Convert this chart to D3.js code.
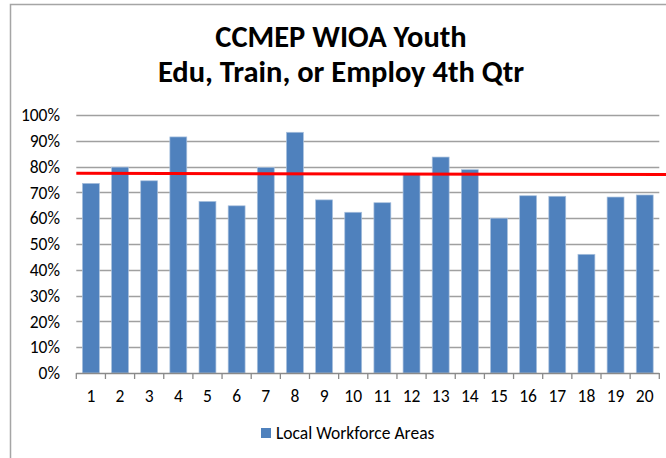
<!DOCTYPE html>
<html><head><meta charset="utf-8">
<script src="https://cdn.jsdelivr.net/npm/d3@7"></script>
<style>body{margin:0;background:#fff}svg{display:block}</style>
</head><body>
<script>
const categories = ["1","2","3","4","5","6","7","8","9","10","11","12","13","14","15","16","17","18","19","20"];
const values = [0.735,0.798,0.745,0.915,0.665,0.648,0.797,0.933,0.671,0.623,0.660,0.771,0.837,0.788,0.600,0.687,0.685,0.460,0.682,0.690];
const yTicks = [0,0.1,0.2,0.3,0.4,0.5,0.6,0.7,0.8,0.9,1.0];
const targetLine = [0.774, 0.769];
const titleLines = ["CCMEP WIOA Youth", "Edu, Train, or Employ 4th Qtr"];
const seriesName = "Local Workforce Areas";

const W = 666, H = 458;
const svg = d3.select("body").append("svg").attr("width", W).attr("height", H);
const font = "Calibri, Carlito, Lato, sans-serif";

// chart frame
svg.append("path").attr("d", `M10.5,${H} V4.5 H${W}`).attr("fill","none").attr("stroke","#a5a5a5").attr("stroke-width",1.5);

const x = d3.scaleBand().domain(categories).range([76.3, 659.3]).paddingInner(0.42).paddingOuter(0.21);
const y = d3.scaleLinear().domain([0,1]).range([373, 115]);

// gridlines
svg.append("g").selectAll("line").data(yTicks.filter(d=>d>0)).join("line")
  .attr("x1", 76.3).attr("x2", 659.3)
  .attr("y1", d=>Math.round(y(d))+0.5).attr("y2", d=>Math.round(y(d))+0.5)
  .attr("stroke","#a0a0a0").attr("stroke-width",1.3);

// y labels
svg.append("g").selectAll("text").data(yTicks).join("text")
  .attr("x", 60).attr("y", d=>y(d)).attr("dy","0.35em").attr("text-anchor","end")
  .attr("font-family", font).attr("font-size", 17.5).attr("fill","#000")
  .text(d3.format(".0%"));

// bars
svg.append("g").selectAll("rect").data(values).join("rect")
  .attr("x",(d,i)=>x(categories[i])).attr("width",x.bandwidth())
  .attr("y",d=>y(d)).attr("height",d=>y(0)-y(d))
  .attr("fill","#4f81bd").attr("stroke","#a9c0dd").attr("stroke-width",0.7);

// x axis
const step = x.step();
const x0 = x.range()[0];
svg.append("line").attr("x1",x0).attr("x2",x.range()[1]).attr("y1",373.5).attr("y2",373.5).attr("stroke","#8a8a8a").attr("stroke-width",1.3);
svg.append("g").selectAll("line").data(d3.range(categories.length+1)).join("line")
  .attr("x1",i=>x0+i*step).attr("x2",i=>x0+i*step).attr("y1",373).attr("y2",379)
  .attr("stroke","#8a8a8a").attr("stroke-width",1.3);
svg.append("g").selectAll("text").data(categories).join("text")
  .attr("x",d=>x(d)+x.bandwidth()/2).attr("y",396).attr("dy","0.35em").attr("text-anchor","middle")
  .attr("font-family",font).attr("font-size",17.5).attr("fill","#000").text(d=>d);

// target line
svg.append("line").attr("x1",x0).attr("x2",W)
  .attr("y1",y(targetLine[0])).attr("y2",y(targetLine[1]))
  .attr("stroke","#ff0000").attr("stroke-width",3);

// title
svg.append("g").selectAll("text").data(titleLines).join("text")
  .attr("x",341).attr("y",(d,i)=>47+i*35).attr("text-anchor","middle")
  .attr("font-family",font).attr("font-weight","bold").attr("font-size",30.5).attr("fill","#000").text(d=>d);

// legend
svg.append("rect").attr("x",261).attr("y",428).attr("width",10).attr("height",10).attr("fill","#4f81bd");
svg.append("text").attr("x",276).attr("y",433).attr("dy","0.35em")
  .attr("font-family",font).attr("font-size",17.5).attr("fill","#000").text(seriesName);
</script>
</body></html>
